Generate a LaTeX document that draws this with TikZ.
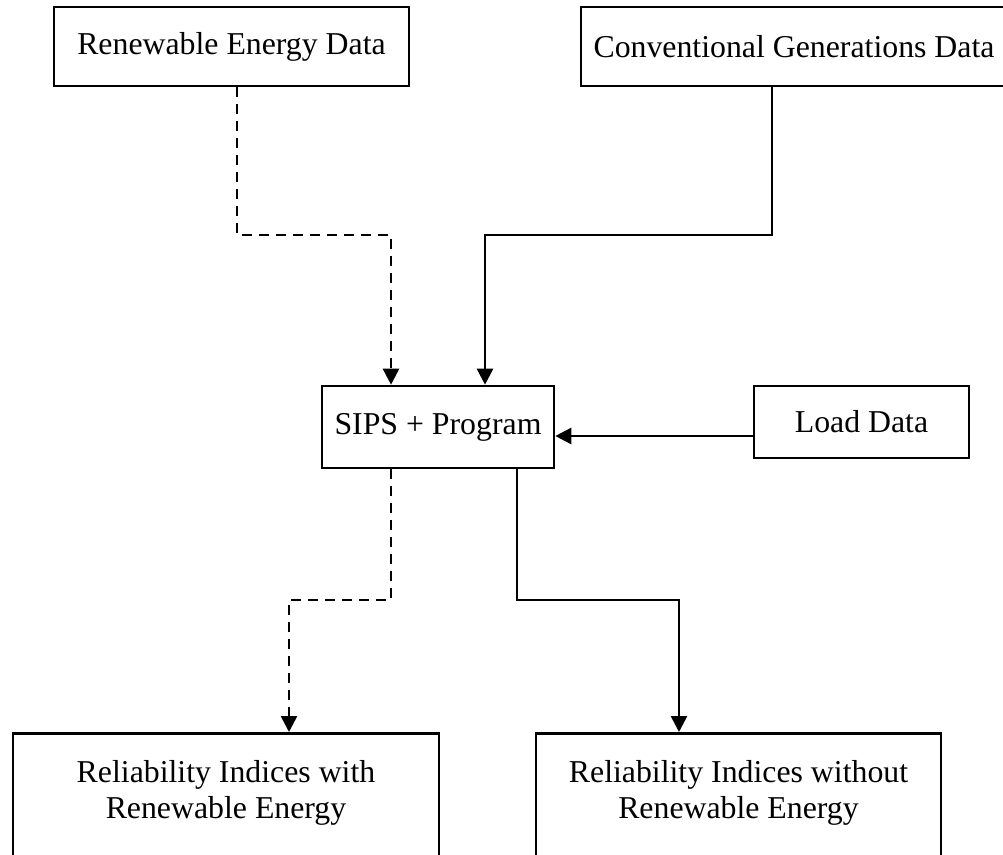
\documentclass[tikz,border=0pt]{standalone}
\usepackage{fontspec}
\setmainfont{Liberation Serif}
\usetikzlibrary{arrows.meta,calc}
\begin{document}
\begin{tikzpicture}[x=1pt,y=-1pt,
  box/.style={draw, line width=2.6pt, inner sep=0pt,
    font=\fontsize{31.8}{36.5}\selectfont, align=center},
  caption/.style={inner sep=0pt, font=\fontsize{31.8}{36.5}\selectfont, align=center},
  flow/.style={line width=2.6pt, -{Triangle[length=16pt,width=16pt]}},
  dashflow/.style={flow, dash pattern=on 10pt off 7pt}]
\useasboundingbox (0,0) rectangle (1003,854);

% data sources
\node[box, minimum width=355pt, minimum height=79pt] (ren) at (231.5,46.5) {Renewable Energy Data};
\node[box, minimum width=426pt, minimum height=79pt] (conv) at (794,46.5) {Conventional Generations Data};

% program and load data
\node[box, minimum width=232pt, minimum height=82pt] (sips) at (438,427) {SIPS + Program};
\node[box, minimum width=215pt, minimum height=72pt] (load) at (861.5,422) {Load Data};

% results
\node[box, minimum width=426pt, minimum height=150pt, anchor=north] (with) at (226,732) {};
\node[caption] (withtext) at (226,793) {Reliability Indices with\\Renewable Energy};
\node[box, minimum width=405pt, minimum height=150pt, anchor=north] (without) at (738.5,732) {};
\node[caption] (withouttext) at (738.5,793) {Reliability Indices without\\Renewable Energy};

% bends of the connectors
\coordinate (j1) at (391,235);
\coordinate (j2) at (485,235);
\coordinate (j3) at (289,600);
\coordinate (j4) at (679,600);

% connectors
\draw[dashflow] ($(ren.south)+(5.5,0)$) |- (j1) -- (j1 |- sips.north);
\draw[flow] ($(conv.south)+(-22,0)$) |- (j2) -- (j2 |- sips.north);
\draw[flow] ($(load.west)+(0,14)$) -- ($(sips.east)+(0,9)$);
\draw[dashflow] ($(sips.south)+(-47,0)$) |- (j3) -- (j3 |- with.north);
\draw[flow] ($(sips.south)+(79,0)$) |- (j4) -- (j4 |- without.north);
\end{tikzpicture}
\end{document}
